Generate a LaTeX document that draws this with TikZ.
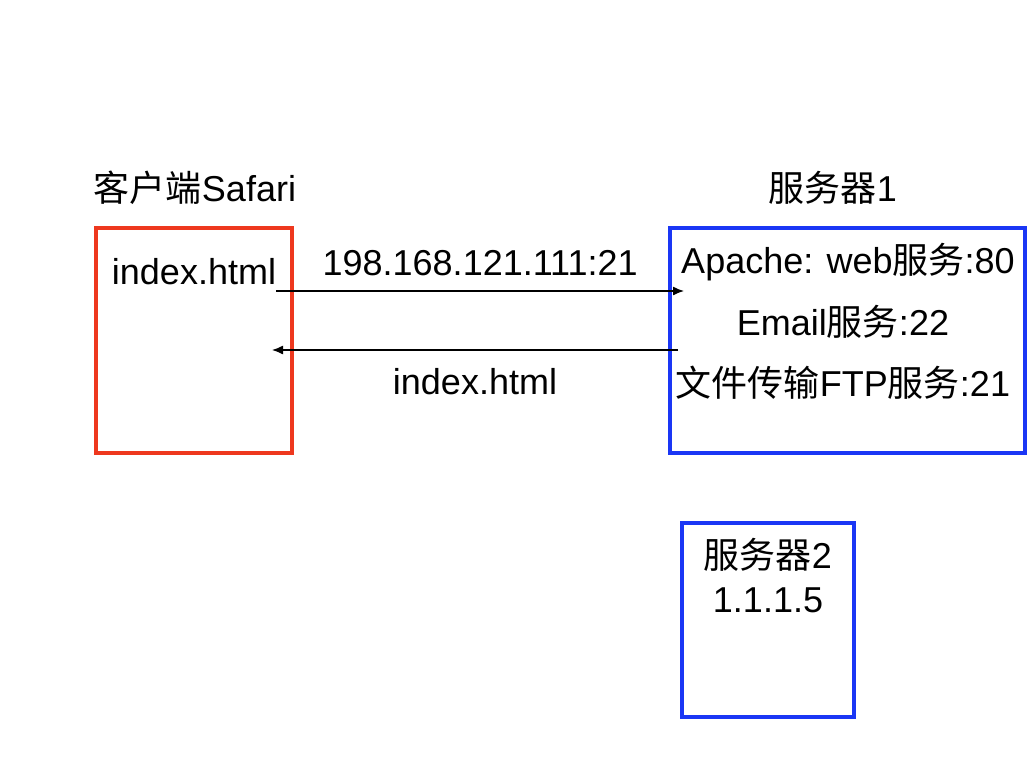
\documentclass[tikz,border=0pt]{standalone}
\usepackage{fontspec}
\setmainfont{Liberation Sans}
\newfontfamily\cjk{Noto Sans CJK SC}
\usetikzlibrary{positioning,arrows.meta}
\definecolor{clientred}{RGB}{238,56,30}
\definecolor{serverblue}{RGB}{26,54,245}
\newcommand{\zh}[1]{{\cjk #1}}

\begin{document}
\begin{tikzpicture}[x=1pt,y=-1pt]
   \tikzstyle{every node}=[inner sep=0pt, font=\fontsize{36}{42}\selectfont]
   \tikzstyle{clientbox}=[draw=clientred, line width=3.5pt, minimum width=196pt, minimum height=225pt]
   \tikzstyle{serverbox}=[draw=serverblue, line width=3.5pt]
   \tikzstyle{msg}=[line width=1.3pt, -{Latex[length=11pt, width=9pt]}]

\useasboundingbox (0,0) rectangle (1028,772);

% boxes
\node[clientbox] (client) at (194,340.5) {};
\node[serverbox, minimum width=355pt, minimum height=225pt] (server1) at (847.5,340.5) {};
\node[serverbox, minimum width=172pt, minimum height=194pt] (server2) at (768,620) {};

% titles
\node (clientname) at (195,188) {\zh{客户端}Safari};
\node (server1name) at (833,188) {\zh{服务器}1};

% contents
\node (clientfile) at (194,272) {index.html};
\node (apache) at (848,262) {Apache: web\zh{服务}:80};
\node (email) at (843,322) {Email\zh{服务}:22};
\node (ftp) at (843,383) {\zh{文件传输}FTP\zh{服务}:21};
\node (server2name) at (768,555) {\zh{服务器}2};
\node (server2ip) at (768,600) {1.1.1.5};

% request / response
\coordinate (reqend) at (684,291);
\coordinate (respstart) at (678,350);
\coordinate (respend) at (272,350);
\draw[msg] (clientfile.east |- reqend) -- node[above=15pt] (reqlabel) {198.168.121.111:21} (reqend);
\draw[msg] (respstart) -- node[below=18pt] (resplabel) {index.html} (respend);

\end{tikzpicture}
\end{document}
